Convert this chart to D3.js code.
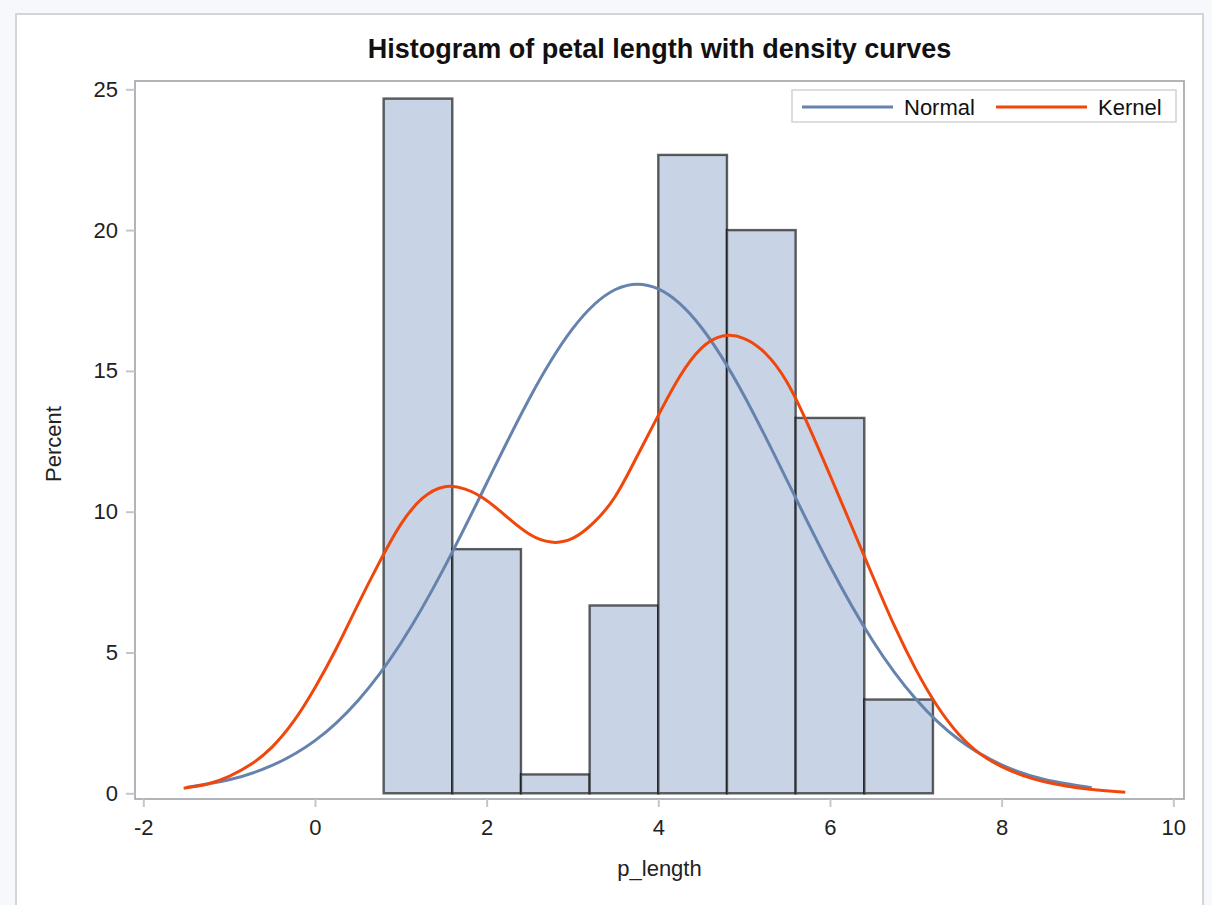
<!DOCTYPE html>
<html>
<head>
<meta charset="utf-8">
<script src="https://cdn.jsdelivr.net/npm/d3@7"></script>
<style>
  html, body { margin: 0; padding: 0; background: #f7f8fc; }
  svg { display: block; font-family: "Liberation Sans", Arial, sans-serif; }
</style>
</head>
<body>
<svg id="chart" width="1212" height="905"></svg>
<script>
// Histogram bins of petal length (bin lower edge, width 0.8) and percent of observations
const binStarts = [0.8, 1.6, 2.4, 3.2, 4.0, 4.8, 5.6, 6.4];
const binWidth = 0.8;
const binPercents = [24.67, 8.67, 0.67, 6.67, 22.67, 20.0, 13.33, 3.33];

// Fitted normal density, scaled to percent per bin
const normalX = [-1.5, -1.0, -0.5, 0.0, 0.5, 1.0, 1.5, 2.0, 2.5, 3.0, 3.5, 4.0, 4.5, 5.0, 5.5, 6.0, 6.5, 7.0, 7.5, 8.0, 8.5, 9.05];
const normalY = [0.21, 0.48, 0.99, 1.87, 3.29, 5.33, 7.98, 11.01, 14.03, 16.49, 17.89, 17.91, 16.55, 14.12, 11.11, 8.07, 5.41, 3.35, 1.91, 1.01, 0.49, 0.20];

// Kernel density estimate, scaled to percent per bin
const kernelX = [-1.53, -1.25, -1.0, -0.75, -0.5, -0.25, 0.0, 0.25, 0.5, 0.75, 1.0, 1.25, 1.5, 1.75, 2.0, 2.25, 2.5, 2.75, 3.0, 3.25, 3.5, 3.75, 4.0, 4.25, 4.5, 4.75, 5.0, 5.25, 5.5, 5.75, 6.0, 6.25, 6.5, 6.75, 7.0, 7.25, 7.5, 7.75, 8.0, 8.25, 8.5, 8.75, 9.0, 9.25, 9.44];
const kernelY = [0.18, 0.33, 0.6, 1.02, 1.64, 2.55, 3.75, 5.15, 6.7, 8.2, 9.55, 10.47, 10.88, 10.8, 10.4, 9.78, 9.2, 8.92, 9.05, 9.62, 10.55, 11.95, 13.42, 14.8, 15.8, 16.24, 16.15, 15.62, 14.6, 13.05, 11.3, 9.5, 7.7, 5.95, 4.4, 3.1, 2.1, 1.4, 0.95, 0.63, 0.41, 0.26, 0.15, 0.08, 0.04];

const xTicks = [-2, 0, 2, 4, 6, 8, 10];
const yTicks = [0, 5, 10, 15, 20, 25];

const seriesNames = ["Normal", "Kernel"];
const seriesColors = ["#6683ad", "#f0470c"];

const svg = d3.select("#chart");

// white panel
svg.append("rect")
  .attr("x", 16).attr("y", 14).attr("width", 1187).attr("height", 900)
  .attr("fill", "#ffffff").attr("stroke", "#d3d5d8").attr("stroke-width", 2);

const frame = { left: 135, right: 1184, top: 81, bottom: 799 };

const x = d3.scaleLinear().domain([-2, 10]).range([143.3, 1173.3]);
const y = d3.scaleLinear().domain([0, 25]).range([793.3, 89.3]);

// title
svg.append("text")
  .attr("x", (frame.left + frame.right) / 2).attr("y", 58)
  .attr("text-anchor", "middle")
  .attr("font-size", 27).attr("font-weight", "bold").attr("fill", "#111")
  .text("Histogram of petal length with density curves");

// histogram bars
const bins = binStarts.map((s, i) => ({ x0: s, x1: s + binWidth, v: binPercents[i] }));
svg.append("g").selectAll("rect").data(bins).join("rect")
  .attr("x", d => x(d.x0))
  .attr("y", d => y(d.v))
  .attr("width", d => x(d.x1) - x(d.x0))
  .attr("height", d => y(0) - y(d.v))
  .attr("fill", "#c8d4e5")
  .attr("stroke", "#000000")
  .attr("stroke-opacity", 0.62)
  .attr("stroke-width", 2.4);

// density curves (smooth cubic spline through the sampled values)
const line = d3.line().x(d => x(d[0])).y(d => y(d[1])).curve(d3.curveNatural);
svg.append("path")
  .datum(normalX.map((v, i) => [v, normalY[i]]))
  .attr("d", line).attr("fill", "none")
  .attr("stroke", seriesColors[0]).attr("stroke-width", 3);
svg.append("path")
  .datum(kernelX.map((v, i) => [v, kernelY[i]]))
  .attr("d", line).attr("fill", "none")
  .attr("stroke", seriesColors[1]).attr("stroke-width", 3);

// plot frame
svg.append("rect")
  .attr("x", frame.left).attr("y", frame.top)
  .attr("width", frame.right - frame.left).attr("height", frame.bottom - frame.top)
  .attr("fill", "none").attr("stroke", "#9ea3a8").attr("stroke-width", 1.6);

// x axis
const xAxis = d3.axisBottom(x).tickValues(xTicks).tickSize(8).tickPadding(12).tickFormat(d => String(d));
const gx = svg.append("g").attr("transform", `translate(0,${frame.bottom})`).call(xAxis);
gx.select(".domain").remove();
gx.selectAll(".tick line").attr("stroke", "#c4c7ca").attr("stroke-width", 2);
gx.selectAll(".tick text").attr("font-size", 22).attr("fill", "#222")
  .attr("font-family", "'Liberation Sans', Arial, sans-serif");

// y axis
const yAxis = d3.axisLeft(y).tickValues(yTicks).tickSize(9).tickPadding(8).tickFormat(d => String(d));
const gy = svg.append("g").attr("transform", `translate(${frame.left},0)`).call(yAxis);
gy.select(".domain").remove();
gy.selectAll(".tick line").attr("stroke", "#c4c7ca").attr("stroke-width", 2);
gy.selectAll(".tick text").attr("font-size", 22).attr("fill", "#222")
  .attr("font-family", "'Liberation Sans', Arial, sans-serif");

// axis labels
svg.append("text")
  .attr("x", (frame.left + frame.right) / 2).attr("y", 876)
  .attr("text-anchor", "middle").attr("font-size", 22).attr("fill", "#222")
  .text("p_length");
svg.append("text")
  .attr("transform", `translate(61,${(frame.top + frame.bottom) / 2 + 4}) rotate(-90)`)
  .attr("text-anchor", "middle").attr("font-size", 22).attr("fill", "#222")
  .text("Percent");

// legend
const lg = svg.append("g");
lg.append("rect").attr("x", 792).attr("y", 90).attr("width", 384).attr("height", 32)
  .attr("fill", "#ffffff").attr("stroke", "#d0d2d4").attr("stroke-width", 1.5);
const legendItems = [
  { name: seriesNames[0], color: seriesColors[0], x0: 802 },
  { name: seriesNames[1], color: seriesColors[1], x0: 996 }
];
legendItems.forEach(it => {
  lg.append("line").attr("x1", it.x0).attr("x2", it.x0 + 91).attr("y1", 107).attr("y2", 107)
    .attr("stroke", it.color).attr("stroke-width", 3);
  lg.append("text").attr("x", it.x0 + 102).attr("y", 114.5)
    .attr("font-size", 22).attr("fill", "#111").text(it.name);
});
</script>
</body>
</html>
